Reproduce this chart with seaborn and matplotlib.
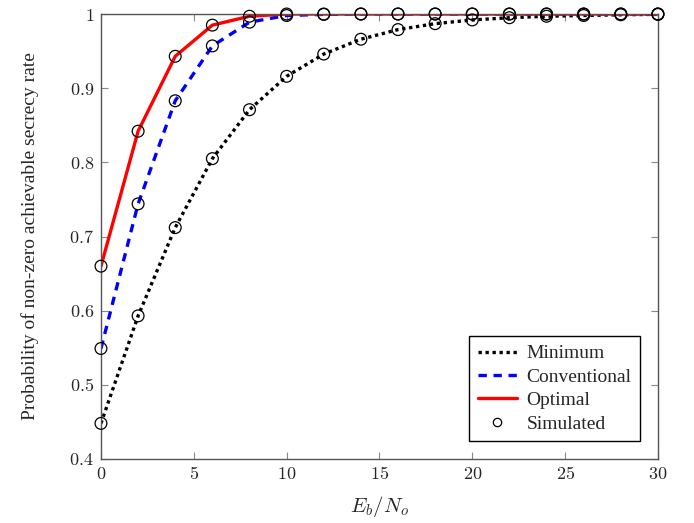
import numpy as np
import pandas as pd
import matplotlib
matplotlib.use("Agg")
import matplotlib.pyplot as plt
import seaborn as sns
from matplotlib.lines import Line2D

# values
eb_no = [0, 2, 4, 6, 8, 10, 12, 14, 16, 18, 20, 22, 24, 26, 28, 30]
minimum = [0.448, 0.593, 0.712, 0.805, 0.871, 0.916, 0.946, 0.966, 0.979,
           0.987, 0.992, 0.995, 0.997, 0.998, 0.999, 0.9995]
conventional = [0.549, 0.744, 0.883, 0.957, 0.989, 0.998, 0.9995, 1.0, 1.0,
                1.0, 1.0, 1.0, 1.0, 1.0, 1.0, 1.0]
optimal = [0.660, 0.842, 0.943, 0.985, 0.997, 1.0, 1.0, 1.0, 1.0,
           1.0, 1.0, 1.0, 1.0, 1.0, 1.0, 1.0]
x_ticks = [0, 5, 10, 15, 20, 25, 30]
y_ticks = [0.4, 0.5, 0.6, 0.7, 0.8, 0.9, 1.0]
y_tick_labels = ["0.4", "0.5", "0.6", "0.7", "0.8", "0.9", "1"]

series = {"Minimum": minimum, "Conventional": conventional, "Optimal": optimal}
styles = {"Minimum": ("black", (0, (1, 1.1)), 2.4),
          "Conventional": ("blue", (0, (2.5, 2)), 2.4),
          "Optimal": ("red", "-", 2.4)}

df = pd.DataFrame([
    {"x": x, "y": y, "scheme": name}
    for name, vals in series.items()
    for x, y in zip(eb_no, vals)
])

sns.set_style("ticks")
plt.rcParams["font.family"] = ["Liberation Serif", "DejaVu Serif"]
plt.rcParams["mathtext.fontset"] = "cm"

fig = plt.figure(figsize=(6.94, 5.23), dpi=100)
ax = fig.add_axes([0.1455, 0.1224, 0.8025, 0.8508])

for name in series:
    color, ls, lw = styles[name]
    sub = df[df["scheme"] == name]
    sns.lineplot(data=sub, x="x", y="y", ax=ax, color=color, linestyle=ls,
                 linewidth=lw, legend=False, zorder=2)

# simulated points on every curve
ax.scatter(df["x"], df["y"], s=72, facecolors="none", edgecolors="black",
           linewidths=0.9, zorder=3, clip_on=False)

ax.set_xlim(0, 30)
ax.set_ylim(0.4, 1.0)
ax.set_xticks(x_ticks)
ax.set_xticklabels([f"${t}$" for t in x_ticks])
ax.set_yticks(y_ticks)
ax.set_yticklabels([f"${t}$" for t in y_tick_labels])
ax.tick_params(direction="in", top=True, right=True, length=5, width=0.8,
               color="#888888", labelsize=13, pad=5)
for sp in ax.spines.values():
    sp.set_visible(True)
    sp.set_color("#555555")
    sp.set_linewidth(1.0)

ax.set_xlabel(r"$E_b/N_o$", fontsize=15, labelpad=8)
ax.set_ylabel("Probability of non-zero achievable secrecy rate", fontsize=14, labelpad=22)

handles = [
    Line2D([], [], color="black", linestyle=(0, (1, 1.1)), linewidth=2.4),
    Line2D([], [], color="blue", linestyle=(0, (2.5, 2)), linewidth=2.4),
    Line2D([], [], color="red", linestyle="-", linewidth=2.4),
    Line2D([], [], color="black", marker="o", linestyle="none", markersize=6,
           markerfacecolor="none", markeredgewidth=0.9),
]
leg = ax.legend(handles, ["Minimum", "Conventional", "Optimal", "Simulated"],
                loc="lower right", fontsize=14, frameon=True, fancybox=False,
                edgecolor="black", framealpha=1, borderaxespad=0.9,
                handlelength=2.0, handletextpad=0.5, labelspacing=0.3,
                borderpad=0.45)
leg.get_frame().set_linewidth(1.0)

fig.savefig("out.png", dpi=100)
